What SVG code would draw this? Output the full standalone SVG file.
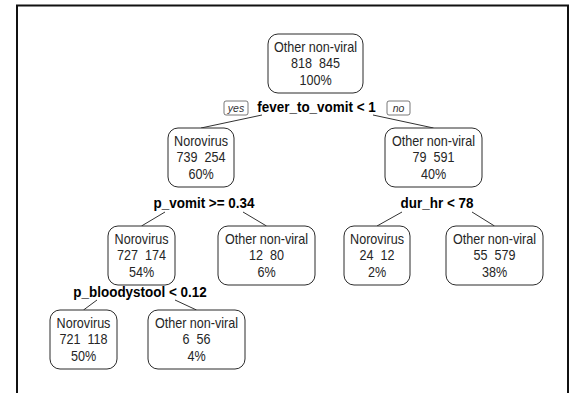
<svg xmlns="http://www.w3.org/2000/svg" width="573" height="393" viewBox="0 0 573 393">
  <style>
    text { font-family: "Liberation Sans", Arial, sans-serif; }
    .box { fill: #fff; stroke: #2b2b2b; stroke-width: 1; }
    .n { font-size: 14px; fill: #262626; text-anchor: middle; white-space: pre; transform: scaleX(0.9); transform-box: fill-box; transform-origin: center; }
    .s { font-size: 14px; font-weight: bold; fill: #000; text-anchor: middle; transform: scaleX(0.96); transform-box: fill-box; transform-origin: center; }
    .yn { fill: #fff; stroke: #555; stroke-width: 0.8; }
    .ynt { font-size: 10.5px; font-style: italic; fill: #333; text-anchor: middle; }
    .br { stroke: #333; stroke-width: 1; fill: none; }
  </style>

  <rect width="573" height="393" fill="#fff"/>
  <!-- plot frame (bottom edge runs off the image) -->
  <rect x="17" y="5.5" width="551" height="420" fill="none" stroke="#111" stroke-width="2"/>

  <!-- branches -->
  <g id="branches" class="br">
    <path d="M262,115 L201,128"/>
    <path d="M373,115 L433.5,128"/>
    <path d="M165,212 L141.5,226"/>
    <path d="M243,212 L266.5,226"/>
    <path d="M402,212 L377,226"/>
    <path d="M472,212 L494.5,226"/>
    <path d="M97,300 L83.5,310"/>
    <path d="M175,300 L196.5,310"/>
  </g>

  <!-- split labels -->
  <g id="split-root">
    <rect class="yn" x="224" y="101" width="24" height="14" rx="2"/>
    <text class="ynt" x="236" y="111.5">yes</text>
    <text class="s" x="316.5" y="112">fever_to_vomit &lt; 1</text>
    <rect class="yn" x="387" y="101" width="23" height="14" rx="2"/>
    <text class="ynt" x="398.5" y="111.5">no</text>
  </g>
  <g id="split-pvomit"><text class="s" x="204" y="208">p_vomit &gt;= 0.34</text></g>
  <g id="split-durhr"><text class="s" x="437" y="208">dur_hr &lt; 78</text></g>
  <g id="split-bloody"><text class="s" x="140" y="297">p_bloodystool &lt; 0.12</text></g>

  <!-- nodes -->
  <g id="node1">
    <rect class="box" x="268" y="34" width="95" height="59" rx="10"/>
    <text class="n" x="315.5" y="52">Other non-viral</text>
    <text class="n" x="315.5" y="68.5">818  845</text>
    <text class="n" x="315.5" y="85">100%</text>
  </g>
  <g id="node2">
    <rect class="box" x="168" y="128" width="66" height="59" rx="10"/>
    <text class="n" x="201" y="146">Norovirus</text>
    <text class="n" x="201" y="162.5">739  254</text>
    <text class="n" x="201" y="179">60%</text>
  </g>
  <g id="node3">
    <rect class="box" x="385" y="128" width="97" height="59" rx="10"/>
    <text class="n" x="433.5" y="146">Other non-viral</text>
    <text class="n" x="433.5" y="162.5">79  591</text>
    <text class="n" x="433.5" y="179">40%</text>
  </g>
  <g id="node4">
    <rect class="box" x="108" y="226" width="67" height="59" rx="10"/>
    <text class="n" x="141.5" y="244">Norovirus</text>
    <text class="n" x="141.5" y="260.5">727  174</text>
    <text class="n" x="141.5" y="277">54%</text>
  </g>
  <g id="node5">
    <rect class="box" x="218" y="226" width="97" height="59" rx="10"/>
    <text class="n" x="266.5" y="244">Other non-viral</text>
    <text class="n" x="266.5" y="260.5">12  80</text>
    <text class="n" x="266.5" y="277">6%</text>
  </g>
  <g id="node6">
    <rect class="box" x="344" y="226" width="66" height="59" rx="10"/>
    <text class="n" x="377" y="244">Norovirus</text>
    <text class="n" x="377" y="260.5">24  12</text>
    <text class="n" x="377" y="277">2%</text>
  </g>
  <g id="node7">
    <rect class="box" x="446" y="226" width="97" height="59" rx="10"/>
    <text class="n" x="494.5" y="244">Other non-viral</text>
    <text class="n" x="494.5" y="260.5">55  579</text>
    <text class="n" x="494.5" y="277">38%</text>
  </g>
  <g id="node8">
    <rect class="box" x="50" y="310" width="67" height="59" rx="10"/>
    <text class="n" x="83.5" y="328">Norovirus</text>
    <text class="n" x="83.5" y="344.5">721  118</text>
    <text class="n" x="83.5" y="361">50%</text>
  </g>
  <g id="node9">
    <rect class="box" x="148" y="310" width="97" height="59" rx="10"/>
    <text class="n" x="196.5" y="328">Other non-viral</text>
    <text class="n" x="196.5" y="344.5">6  56</text>
    <text class="n" x="196.5" y="361">4%</text>
  </g>
</svg>
